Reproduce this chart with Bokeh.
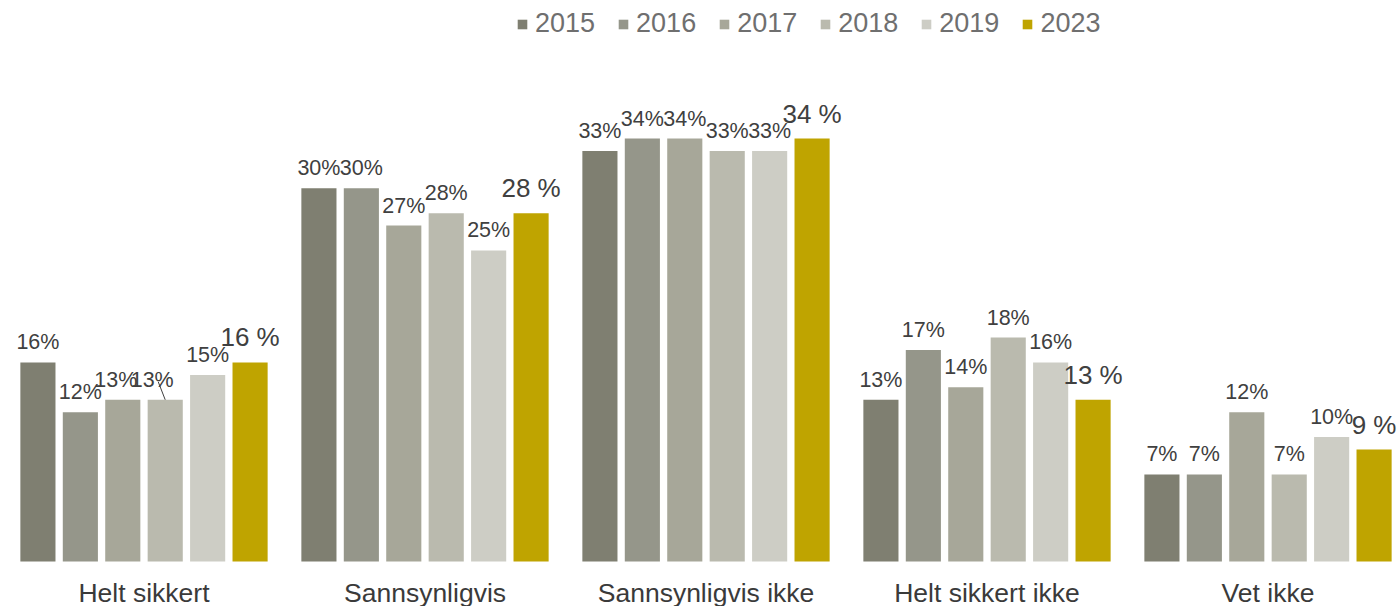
from bokeh.plotting import figure
from bokeh.models import ColumnDataSource, Range1d, Legend, LegendItem
from bokeh.core.properties import value
from bokeh.embed import file_html
from bokeh.resources import INLINE

categories = ["Helt sikkert", "Sannsynligvis", "Sannsynligvis ikke", "Helt sikkert ikke", "Vet ikke"]
years = ["2015", "2016", "2017", "2018", "2019", "2023"]
v2015 = [16, 30, 33, 13, 7]
v2016 = [12, 30, 34, 17, 7]
v2017 = [13, 27, 34, 14, 12]
v2018 = [13, 28, 33, 18, 7]
v2019 = [15, 25, 33, 16, 10]
v2023 = [16, 28, 34, 13, 9]
series = [v2015, v2016, v2017, v2018, v2019, v2023]

colors = ["#7f7f71", "#95968a", "#a7a799", "#babaae", "#cdcdc5", "#bfa400"]
FONT = "Liberation Sans"

W, H = 1399, 606
BASE = 561          # pixel row of the zero line
PX_PER_UNIT = 281.0
x_start = -143.5 / PX_PER_UNIT
x_end = x_start + W / PX_PER_UNIT
PX_PER_PCT = (BASE - 138) / 34.0
y_start = -(H - BASE) / PX_PER_PCT
y_end = BASE / PX_PER_PCT

pitch = 0.151
bw = 0.125

# label pixel nudges for overlapping labels (category index, year index) -> x offset
label_nudge = {(0, 2): -7, (0, 3): -13}

p = figure(width=W, height=H, output_backend="svg", toolbar_location=None,
           x_range=Range1d(x_start, x_end), y_range=Range1d(y_start, y_end),
           min_border_left=0, min_border_right=0, min_border_top=0, min_border_bottom=0)
p.outline_line_color = None
p.xgrid.visible = False
p.ygrid.visible = False
p.yaxis.visible = False
p.xaxis.visible = False
p.background_fill_color = "white"
p.border_fill_color = "white"

items = []
for j, (yr, vals) in enumerate(zip(years, series)):
    xs = [i + (j - 2.5) * pitch for i in range(len(categories))]
    big = (yr == "2023")
    labels = [f"{v} %" if big else f"{v}%" for v in vals]
    xoff = [label_nudge.get((i, j), 0) for i in range(len(categories))]
    src = ColumnDataSource(dict(x=xs, top=vals, label=labels, xoff=xoff))
    r = p.vbar(x="x", top="top", width=bw, bottom=0, source=src, fill_color=colors[j], line_color=None)
    items.append(LegendItem(label=yr, renderers=[r]))
    p.text(x="x", y="top", text="label", source=src, x_offset="xoff",
           y_offset=-25 if big else -20,
           text_align="center", text_baseline="middle",
           text_font=value(FONT), text_font_size="26px" if big else "21.5px",
           text_color="#404040")

# leader line for the overlapping 2018 label in "Helt sikkert"
lx = 0 + (3 - 2.5) * pitch
lv = v2018[0]
p.segment(x0=[lx - 7 / PX_PER_UNIT], y0=[lv + 18 / PX_PER_PCT], x1=[lx], y1=[lv],
          line_color="#404040", line_width=1)

# category labels under the groups
cat_src = ColumnDataSource(dict(x=list(range(len(categories))), y=[0] * len(categories), text=categories))
p.text(x="x", y="y", text="text", source=cat_src, y_offset=31,
       text_align="center", text_baseline="middle",
       text_font=value(FONT), text_font_size="26.5px", text_color="#3a3a3a")

legend = Legend(items=items, orientation="horizontal", location=(516, H - 39),
                glyph_width=12, glyph_height=12, label_standoff=7, spacing=22,
                padding=0, margin=0, border_line_color=None, background_fill_alpha=0,
                label_text_font=FONT, label_text_font_size="27px", label_text_color="#6f6f6f",
                label_height=30)
p.add_layout(legend, "center")

open("out.html", "w").write(file_html(p, INLINE))
